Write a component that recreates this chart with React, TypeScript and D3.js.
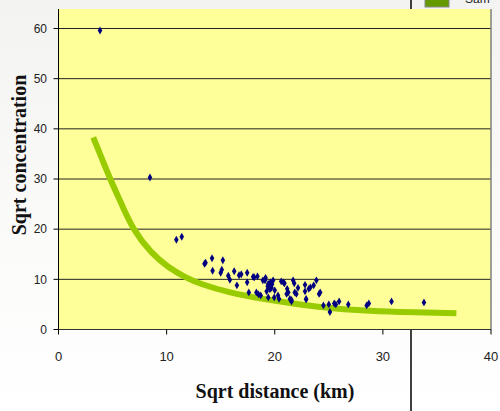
import React from 'react'
import * as d3 from 'd3'

// observed samples (sqrt distance km, sqrt concentration)
const sampleX = [3.84, 8.46, 10.9, 11.4, 13.5, 13.6, 14.2, 14.25, 15.0, 15.1, 15.2, 15.7, 15.85, 16.25, 16.5, 16.7, 16.9,
  17.45, 17.45, 17.6, 18.0, 18.1, 18.4, 18.3, 18.5, 18.7, 18.9, 19.1, 19.15, 19.4, 19.25, 19.4, 19.5, 19.6, 19.7, 19.55,
  19.35, 19.75, 19.85, 20.0, 19.95, 20.3, 20.4, 20.6, 20.8, 20.9, 21.15, 21.25, 21.1, 21.4, 21.55, 21.55, 21.7, 21.8,
  21.85, 22.0, 22.15, 22.8, 22.8, 22.9, 22.9, 23.15, 23.3, 23.6, 23.85, 24.1, 24.2, 24.5, 25.0, 25.1, 25.5, 25.65,
  25.95, 26.8, 28.5, 28.7, 30.8, 33.8]
const sampleY = [59.6, 30.3, 17.9, 18.5, 13.1, 13.3, 14.2, 11.7, 11.3, 11.9, 13.8, 10.7, 9.9, 11.6, 8.8, 10.8, 11.0,
  11.3, 9.4, 7.4, 10.5, 10.4, 10.6, 7.4, 7.0, 6.8, 9.8, 9.8, 10.3, 9.1, 7.6, 6.4, 8.8, 9.4, 8.3, 8.0,
  8.6, 9.0, 9.8, 7.8, 6.4, 6.8, 6.1, 9.6, 9.4, 9.2, 8.1, 7.4, 7.1, 6.1, 5.6, 5.9, 9.8, 9.2,
  7.4, 7.1, 8.3, 8.9, 7.6, 6.1, 6.0, 8.1, 8.4, 8.8, 9.8, 7.1, 7.4, 4.8, 5.0, 3.5, 5.2, 5.0,
  5.6, 5.0, 4.8, 5.2, 5.6, 5.4]

// fitted trend line
const fitX = [3.22, 4.76, 5.84, 6.86, 8.61, 10.15, 11.7, 13.2, 15.7, 18.8, 21.9, 24.9, 28.0, 31.1, 36.8]
const fitY = [38.3, 30.0, 25.0, 20.0, 15.1, 12.4, 10.4, 9.0, 7.4, 6.1, 5.1, 4.3, 3.8, 3.5, 3.25]

const yTicks = [0, 10, 20, 30, 40, 50, 60]
const xTicks = [0, 10, 20, 30, 40]

const W = 500
const H = 411
const left = 58.5
const right = 491
const top = 9
const bottom = 329.5

export default function App() {
  const x = d3.scaleLinear().domain([0, 40]).range([left, right])
  const y = d3.scaleLinear().domain([0, 60]).range([bottom, 28.5])

  const fitLine = d3.line<number>()
    .x((d, i) => x(fitX[i]))
    .y(d => y(d))
    .curve(d3.curveBasis)

  const diamond = d3.symbol().type(d3.symbolDiamond).size(18)()

  return (
    <svg width={W} height={H} style={{ position: 'absolute', left: 0, top: 0 }}>
      <defs>
        <linearGradient id="bg" x1="0" y1="0" x2="0" y2="1">
          <stop offset="0" stopColor="#f3f3f1" />
          <stop offset="0.6" stopColor="#fbfbfa" />
          <stop offset="1" stopColor="#ffffff" />
        </linearGradient>
      </defs>
      <rect width={W} height={H} fill="url(#bg)" />
      <line x1={411} x2={411} y1={0} y2={H} stroke="#000" strokeWidth={1.5} />
      <rect x={425} y={-3} width={24} height={10} fill="#669900" stroke="#888" />
      <text x={465} y={3} fontFamily="Arial, Liberation Sans" fontSize={12} fill="#222">Sam</text>

      <rect x={left} y={top} width={right - left} height={bottom - top} fill="#ffff99" />
      {yTicks.filter(t => t > 0).map(t => (
        <line key={t} x1={left} x2={right} y1={y(t)} y2={y(t)} stroke="#222" strokeWidth={1} />
      ))}
      <line x1={right} x2={right} y1={top} y2={bottom} stroke="#808080" strokeWidth={1.5} />

      <path d={fitLine(fitY) || ''} fill="none" stroke="#99cc00" strokeWidth={6} />

      {sampleX.map((d, i) => (
        <path key={i} d={diamond || ''} transform={`translate(${x(d)},${y(sampleY[i])})`} fill="#000080" />
      ))}

      <line x1={left} x2={left} y1={top} y2={bottom} stroke="#000" />
      <line x1={left} x2={right} y1={bottom} y2={bottom} stroke="#333" />
      {yTicks.map(t => (
        <g key={t}>
          <line x1={left - 5} x2={left} y1={y(t)} y2={y(t)} stroke="#000" />
          <text x={47} y={y(t)} dy="0.35em" textAnchor="end" fontFamily="Arial, Liberation Sans" fontSize={12} fill="#222">{t}</text>
        </g>
      ))}
      {xTicks.map(t => (
        <g key={t}>
          <line x1={x(t)} x2={x(t)} y1={bottom} y2={bottom + 5} stroke="#000" />
          <text x={x(t)} y={361} textAnchor="middle" fontFamily="Arial, Liberation Sans" fontSize={13} fill="#222">{t}</text>
        </g>
      ))}

      <text transform={`translate(26,155) rotate(-90)`} textAnchor="middle" fontFamily="Liberation Serif, Times New Roman, serif"
        fontWeight="bold" fontSize={20} fill="#111">Sqrt concentration</text>
      <text x={275} y={398} textAnchor="middle" fontFamily="Liberation Serif, Times New Roman, serif"
        fontWeight="bold" fontSize={20} fill="#111">Sqrt distance (km)</text>
    </svg>
  )
}
